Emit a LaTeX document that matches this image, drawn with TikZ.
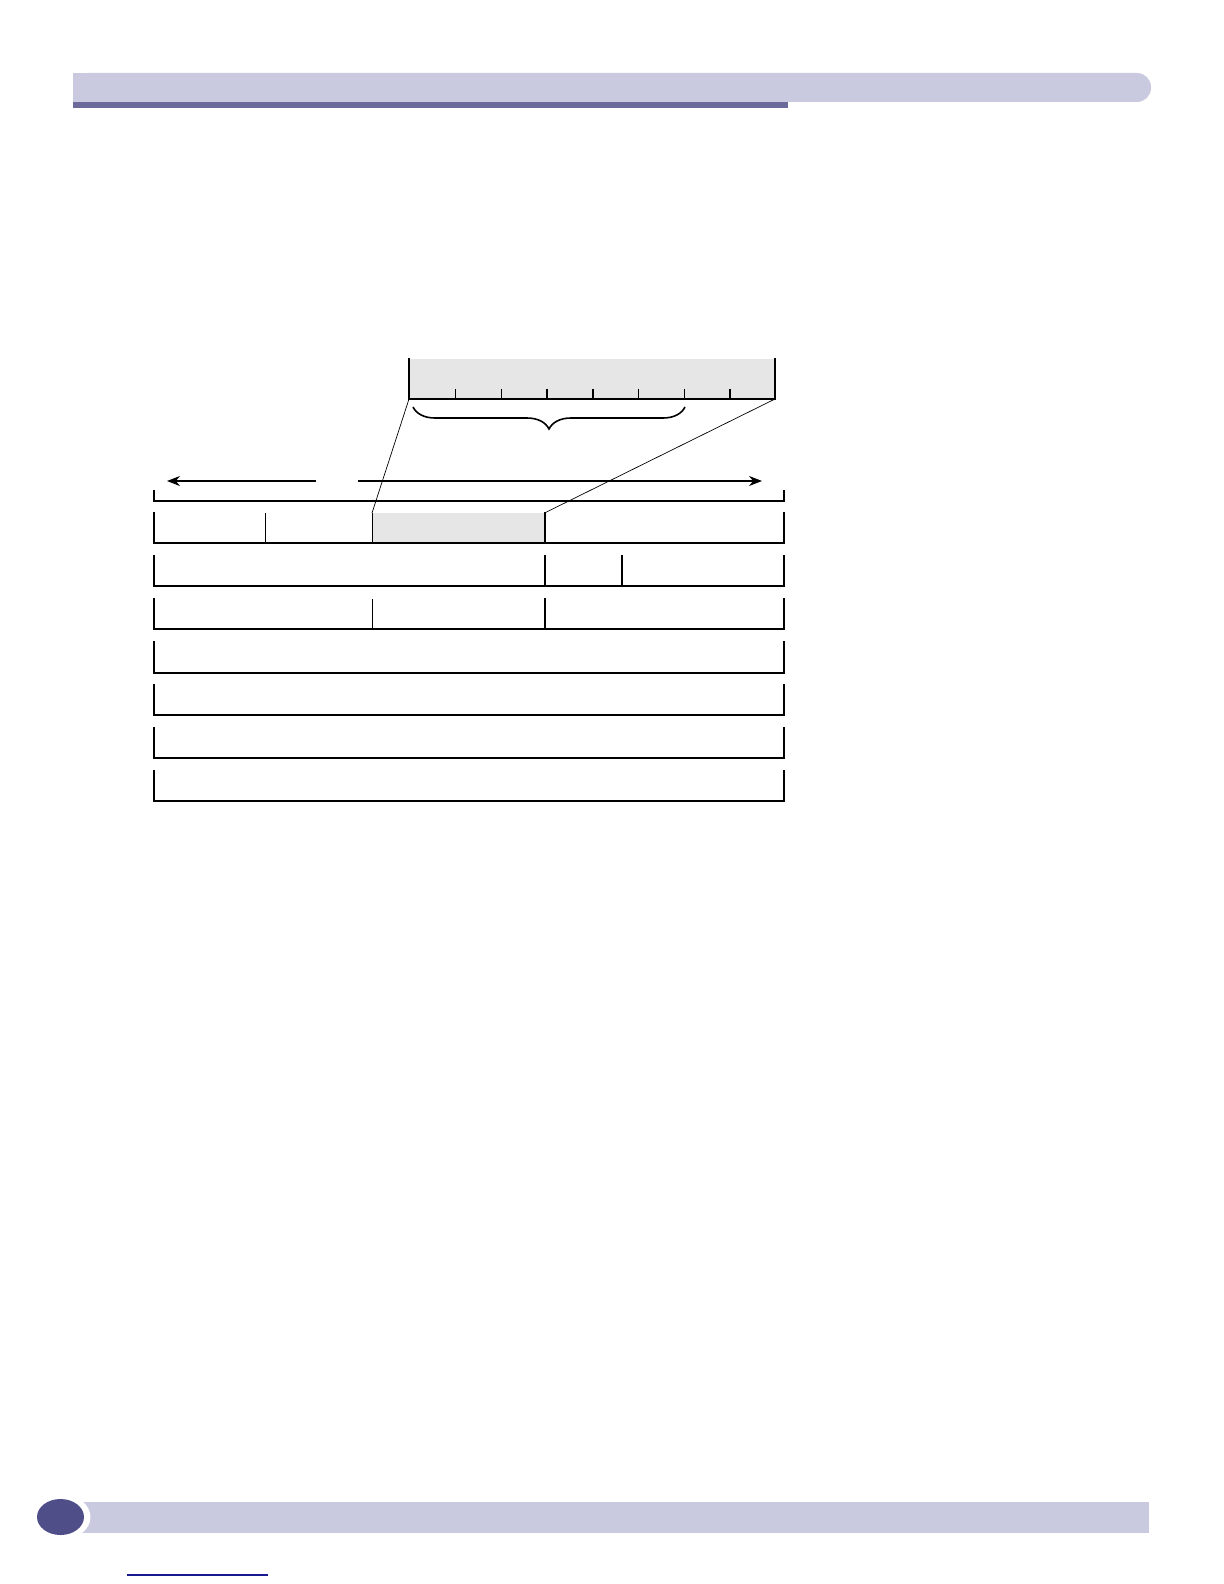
\documentclass[tikz,border=0pt]{standalone}
\usetikzlibrary{arrows.meta,decorations.pathreplacing}
\definecolor{barlight}{HTML}{C9CADF}
\definecolor{bardark}{HTML}{6B6A9B}
\definecolor{dotdark}{HTML}{4F4E88}
\definecolor{cellgray}{HTML}{E6E6E6}
\definecolor{linkblue}{HTML}{1A1A90}
\tikzset{
  thickln/.style={line width=1pt, line cap=rect},
  thinln/.style={line width=0.5pt},
  zoomln/.style={line width=0.35pt},
  arr/.style={line width=0.6pt, -{Stealth[length=6.5pt,width=5pt]}},
}
\begin{document}
\begin{tikzpicture}[x=0.5pt,y=-0.5pt]
\useasboundingbox (0,0) rectangle (1224,1584);
% header
\fill[barlight, rounded corners=7pt] (73,73) rectangle (1151,102);
\fill[barlight] (73,73) rectangle (300,102);
\fill[bardark] (73,102) rectangle (788,108);
% footer
\fill[barlight] (75,1502) rectangle (1149,1533);
\fill[white] (60.5,1517) ellipse[x radius=30, y radius=23];
\fill[dotdark] (60.5,1517) ellipse[x radius=23.5, y radius=18];
\draw[linkblue, line width=0.7pt] (127,1575) -- (268,1575);

% top zoom box
\coordinate (zbl) at (409,399);
\coordinate (zbr) at (775,399);
\fill[cellgray] (409,359) rectangle (775,399);
\draw[thickln] (409,359) -- (zbl) -- (zbr) -- (775,359);
\foreach \x in {455.5,501.5,547.2,592.8,638.3,684.3,730.1}
  \draw[line width=0.8pt] (\x,388.8) -- (\x,399);
% brace
\draw[line width=0.8pt, decorate, decoration={brace, mirror, amplitude=11pt}] (413,407) -- (685,407);

% arrows
\coordinate (la0) at (316,481);
\coordinate (la1) at (167,481);
\coordinate (ra0) at (358,481);
\coordinate (ra1) at (762,481);
\draw[arr] (la0) -- (la1);
\draw[arr] (ra0) -- (ra1);
% bracket
\draw[thickln] (154,490.5) -- (154,501) -- (784,501) -- (784,490.5);

% rows
\def\xl{154}\def\xr{784}
% row 1
\coordinate (c1tl) at (372,513);
\coordinate (c1tr) at (544.5,513);
\fill[cellgray] (372,513) rectangle (544.5,543);
\draw[thickln] (\xl,513) -- (\xl,543) -- (\xr,543) -- (\xr,513);
\draw[thinln] (265.5,513) -- (265.5,543);
\draw[thinln] (372,513) -- (372,543);
\draw[thickln] (544.5,513) -- (544.5,543);
% row 2
\draw[thickln] (\xl,556) -- (\xl,586) -- (\xr,586) -- (\xr,556);
\draw[thickln] (544.5,556) -- (544.5,586);
\draw[thickln] (622,556) -- (622,586);
% row 3
\draw[thickln] (\xl,599) -- (\xl,629) -- (\xr,629) -- (\xr,599);
\draw[thinln] (372,599) -- (372,629);
\draw[thickln] (544.5,599) -- (544.5,629);
% rows 4-7
\foreach \t in {642.3,684.7,728.1,770.5}
  \draw[thickln] (\xl,\t) -- (\xl,\t+30.3) -- (\xr,\t+30.3) -- (\xr,\t);

% zoom lines
\draw[zoomln] (zbl) -- (c1tl);
\draw[zoomln] (zbr) -- (c1tr);
\end{tikzpicture}
\end{document}
